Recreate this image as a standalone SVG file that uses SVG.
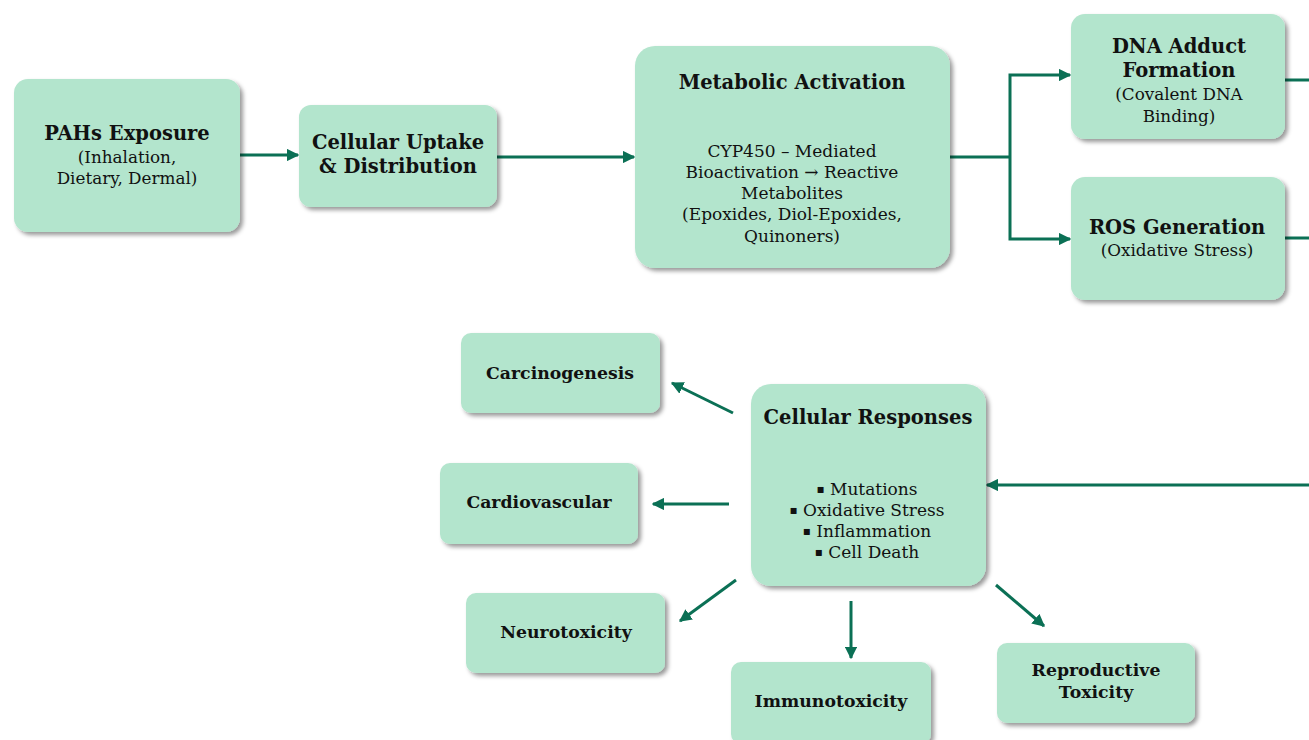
<svg xmlns="http://www.w3.org/2000/svg" width="1309" height="740" viewBox="0 0 1309 740">
<style>
.box{fill:#b3e5cd;filter:url(#sh)}
text{font-family:"DejaVu Serif","Liberation Serif",serif;fill:#111;text-anchor:middle}
.t{font-weight:bold;font-size:19.5px}
.s{font-size:16.8px}
.b{font-size:17px}
.bl{font-size:12px}
.l{font-weight:bold;font-size:17.3px}
.c{stroke:#0b7055;stroke-width:3;fill:none}
</style>
<defs>
<filter id="sh" x="-10%" y="-10%" width="125%" height="130%">
<feDropShadow dx="3" dy="3" stdDeviation="2.2" flood-color="#000" flood-opacity="0.4"/>
</filter>
<marker id="ah" viewBox="0 0 10 10" refX="9" refY="5" markerWidth="4.2" markerHeight="4.2" orient="auto" markerUnits="strokeWidth">
<path d="M0,0 L10,5 L0,10 Z" fill="#0b7055"/>
</marker>
</defs>
<rect width="1309" height="740" fill="#fff"/>
<g id="connectors">
<line class="c" x1="240" y1="155" x2="298" y2="155" marker-end="url(#ah)"/>
<line class="c" x1="497" y1="157" x2="634" y2="157" marker-end="url(#ah)"/>
<polyline class="c" points="950,157 1010,157"/>
<polyline class="c" points="1010,157 1010,75 1070,75" marker-end="url(#ah)"/>
<polyline class="c" points="1010,157 1010,239 1070,239" marker-end="url(#ah)"/>
<line class="c" x1="1284" y1="80" x2="1309" y2="80"/>
<line class="c" x1="1284" y1="238" x2="1309" y2="238"/>
<line class="c" x1="1309" y1="485" x2="987" y2="485" marker-end="url(#ah)"/>
<line class="c" x1="733" y1="413" x2="672" y2="383" marker-end="url(#ah)"/>
<line class="c" x1="729" y1="504" x2="653" y2="504" marker-end="url(#ah)"/>
<line class="c" x1="736" y1="580" x2="680" y2="621" marker-end="url(#ah)"/>
<line class="c" x1="851" y1="601" x2="851" y2="658" marker-end="url(#ah)"/>
<line class="c" x1="996" y1="585" x2="1044" y2="626" marker-end="url(#ah)"/>
</g>
<g id="pahs">
<rect class="box" x="14" y="79" width="226" height="153" rx="14"/>
<text class="t" x="127" y="140">PAHs Exposure</text>
<text class="s" x="127" y="163">(Inhalation,</text>
<text class="s" x="127" y="184">Dietary, Dermal)</text>
</g>
<g id="uptake">
<rect class="box" x="299" y="105" width="198" height="102" rx="12"/>
<text class="t" x="398" y="149">Cellular Uptake</text>
<text class="t" x="398" y="173">&amp; Distribution</text>
</g>
<g id="metabolic">
<rect class="box" x="635" y="46" width="315" height="222" rx="20"/>
<text class="t" x="792" y="89">Metabolic Activation</text>
<text class="b" x="792" y="157">CYP450 – Mediated</text>
<text class="b" x="792" y="178">Bioactivation → Reactive</text>
<text class="b" x="792" y="199">Metabolites</text>
<text class="b" x="792" y="220">(Epoxides, Diol-Epoxides,</text>
<text class="b" x="792" y="242">Quinoners)</text>
</g>
<g id="dna">
<rect class="box" x="1071" y="14" width="214" height="125" rx="14"/>
<text class="t" x="1179" y="53">DNA Adduct</text>
<text class="t" x="1179" y="77">Formation</text>
<text class="s" x="1179" y="100">(Covalent DNA</text>
<text class="s" x="1179" y="122">Binding)</text>
</g>
<g id="ros">
<rect class="box" x="1071" y="177" width="214" height="123" rx="14"/>
<text class="t" x="1177" y="234">ROS Generation</text>
<text class="s" x="1177" y="256">(Oxidative Stress)</text>
</g>
<g id="responses">
<rect class="box" x="751" y="384" width="235" height="202" rx="20"/>
<text class="t" x="868" y="424">Cellular Responses</text>
<text class="b" x="867" y="495"><tspan class="bl" dy="-2">▪</tspan><tspan dy="2"> Mutations</tspan></text>
<text class="b" x="867" y="516"><tspan class="bl" dy="-2">▪</tspan><tspan dy="2"> Oxidative Stress</tspan></text>
<text class="b" x="867" y="537"><tspan class="bl" dy="-2">▪</tspan><tspan dy="2"> Inflammation</tspan></text>
<text class="b" x="867" y="558"><tspan class="bl" dy="-2">▪</tspan><tspan dy="2"> Cell Death</tspan></text>
</g>
<g id="carcinogenesis">
<rect class="box" x="461" y="333" width="199" height="80" rx="10"/>
<text class="l" x="560" y="379">Carcinogenesis</text>
</g>
<g id="cardiovascular">
<rect class="box" x="440" y="463" width="198" height="81" rx="10"/>
<text class="l" x="539" y="508">Cardiovascular</text>
</g>
<g id="neurotoxicity">
<rect class="box" x="466" y="593" width="199" height="80" rx="10"/>
<text class="l" x="566" y="638">Neurotoxicity</text>
</g>
<g id="immunotoxicity">
<rect class="box" x="731" y="662" width="200" height="82" rx="10"/>
<text class="l" x="831" y="707">Immunotoxicity</text>
</g>
<g id="reproductive">
<rect class="box" x="997" y="643" width="198" height="80" rx="10"/>
<text class="l" x="1096" y="676">Reproductive</text>
<text class="l" x="1096" y="698">Toxicity</text>
</g>
</svg>
